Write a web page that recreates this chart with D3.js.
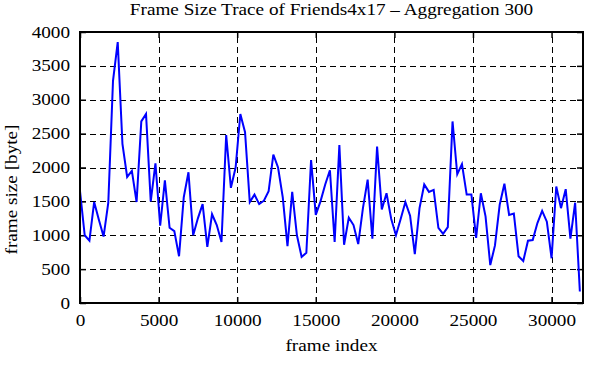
<!DOCTYPE html>
<html>
<head>
<meta charset="utf-8">
<script src="https://cdn.jsdelivr.net/npm/d3@7"></script>
<style>
  body { margin: 0; background: #fff; }
  text { font-family: "Liberation Serif", "DejaVu Serif", serif; fill: #000; }
</style>
</head>
<body>
<svg id="chart" width="611" height="380"></svg>
<script>
const title = "Frame Size Trace of Friends4x17 \u2013 Aggregation 300";
const xLabel = "frame index";
const yLabel = "frame size [byte]";

const xTicks = [0, 5000, 10000, 15000, 20000, 25000, 30000];
const yTicks = [0, 500, 1000, 1500, 2000, 2500, 3000, 3500, 4000];

// frame index of each aggregated sample (one every 300 frames)
const frames = [
  0, 300, 600, 900, 1200, 1500, 1800, 2100, 2400, 2700,
  3000, 3300, 3600, 3900, 4200, 4500, 4800, 5100, 5400, 5700,
  6000, 6300, 6600, 6900, 7200, 7500, 7800, 8100, 8400, 8700,
  9000, 9300, 9600, 9900, 10200, 10500, 10800, 11100, 11400, 11700,
  12000, 12300, 12600, 12900, 13200, 13500, 13800, 14100, 14400, 14700,
  15000, 15300, 15600, 15900, 16200, 16500, 16800, 17100, 17400, 17700,
  18000, 18300, 18600, 18900, 19200, 19500, 19800, 20100, 20400, 20700,
  21000, 21300, 21600, 21900, 22200, 22500, 22800, 23100, 23400, 23700,
  24000, 24300, 24600, 24900, 25200, 25500, 25800, 26100, 26400, 26700,
  27000, 27300, 27600, 27900, 28200, 28500, 28800, 29100, 29400, 29700,
  30000, 30300, 30600, 30900, 31200, 31500, 31800
];

// mean frame size in bytes
const sizes = [
  1650, 1000, 920, 1490, 1230, 980, 1480, 3280, 3850, 2350,
  1860, 1950, 1490, 2680, 2790, 1500, 2060, 1140, 1810, 1110,
  1060, 690, 1560, 1930, 1000, 1250, 1460, 830, 1310, 1150,
  900, 2480, 1700, 2000, 2790, 2520, 1490, 1600, 1460, 1510,
  1650, 2190, 2000, 1560, 840, 1640, 1000, 680, 740, 2110,
  1300, 1500, 1750, 1960, 900, 2330, 860, 1260, 1150, 870,
  1400, 1820, 950, 2310, 1380, 1620, 1240, 1000, 1240, 1490,
  1290, 720, 1400, 1750, 1640, 1670, 1110, 1020, 1120, 2680,
  1900, 2050, 1600, 1600, 960, 1620, 1280, 560, 850, 1450,
  1760, 1300, 1320, 690, 620, 920, 930, 1180, 1360, 1200,
  660, 1720, 1400, 1680, 950, 1480, 170
];

const data = frames.map((f, i) => ({frame: f, size: sizes[i]}));

const width = 611, height = 380;
const margin = {top: 32, right: 28, bottom: 77, left: 80};
const svg = d3.select("#chart");

const x = d3.scaleLinear().domain([0, 32000]).range([margin.left, width - margin.right]);
const y = d3.scaleLinear().domain([0, 4000]).range([height - margin.bottom, margin.top]);

const tickLen = 6;
const fontSize = 16;
const stretch = 1.2; // glyphs in the source are wider than plain Times

// grid
const grid = svg.append("g")
  .attr("stroke", "#000")
  .attr("stroke-width", 1)
  .attr("stroke-dasharray", "6,4");
grid.selectAll(".gx").data(xTicks.slice(1)).join("line")
  .attr("x1", d => Math.round(x(d)) + 0.5).attr("x2", d => Math.round(x(d)) + 0.5)
  .attr("y1", y(0)).attr("y2", y(4000));
grid.selectAll(".gy").data(yTicks.slice(1, -1)).join("line")
  .attr("y1", d => Math.round(y(d)) + 0.5).attr("y2", d => Math.round(y(d)) + 0.5)
  .attr("x1", x(0)).attr("x2", x(32000));

// axes with inward ticks on all four sides
const gx = svg.append("g")
  .attr("transform", `translate(0,${y(0)})`)
  .call(d3.axisBottom(x).tickValues(xTicks).tickSize(-tickLen).tickPadding(12).tickFormat(d3.format("d")))
  .call(g => g.select(".domain").remove());
svg.append("g")
  .attr("transform", `translate(0,${y(4000)})`)
  .call(d3.axisTop(x).tickValues(xTicks).tickSize(-tickLen).tickFormat(""))
  .call(g => g.select(".domain").remove());
const gy = svg.append("g")
  .attr("transform", `translate(${x(0)},0)`)
  .call(d3.axisLeft(y).tickValues(yTicks).tickSize(-tickLen).tickFormat(d3.format("d")))
  .call(g => g.select(".domain").remove());
svg.append("g")
  .attr("transform", `translate(${x(32000)},0)`)
  .call(d3.axisRight(y).tickValues(yTicks).tickSize(-tickLen).tickFormat(""))
  .call(g => g.select(".domain").remove());

svg.selectAll(".tick line").attr("stroke", "#000").attr("stroke-width", 1.5);
svg.selectAll(".tick text")
  .attr("font-size", fontSize)
  .attr("font-family", "Liberation Serif");
gx.selectAll(".tick text").attr("transform", `scale(${stretch},1)`);
gy.selectAll(".tick text")
  .attr("x", -10 / stretch)
  .attr("transform", `scale(${stretch},1)`);

// data line
const line = d3.line().x(d => x(d.frame)).y(d => y(d.size));
svg.append("path")
  .datum(data)
  .attr("fill", "none")
  .attr("stroke", "#0000ff")
  .attr("stroke-width", 2)
  .attr("d", line);

// border
svg.append("rect")
  .attr("x", x(0)).attr("y", y(4000))
  .attr("width", x(32000) - x(0)).attr("height", y(0) - y(4000))
  .attr("fill", "none").attr("stroke", "#000").attr("stroke-width", 2);

// labels
const cx = (x(0) + x(32000)) / 2;
svg.append("text")
  .attr("transform", `translate(${cx},15) scale(${stretch},1)`)
  .attr("text-anchor", "middle").attr("font-size", fontSize)
  .text(title);
svg.append("text")
  .attr("transform", `translate(${cx},351) scale(${stretch},1)`)
  .attr("text-anchor", "middle").attr("font-size", fontSize)
  .text(xLabel);
svg.append("text")
  .attr("transform", `translate(17,${(y(0) + y(4000)) / 2 + 22}) rotate(-90) scale(${stretch},1)`)
  .attr("text-anchor", "middle").attr("font-size", fontSize)
  .text(yLabel);
</script>
</body>
</html>
